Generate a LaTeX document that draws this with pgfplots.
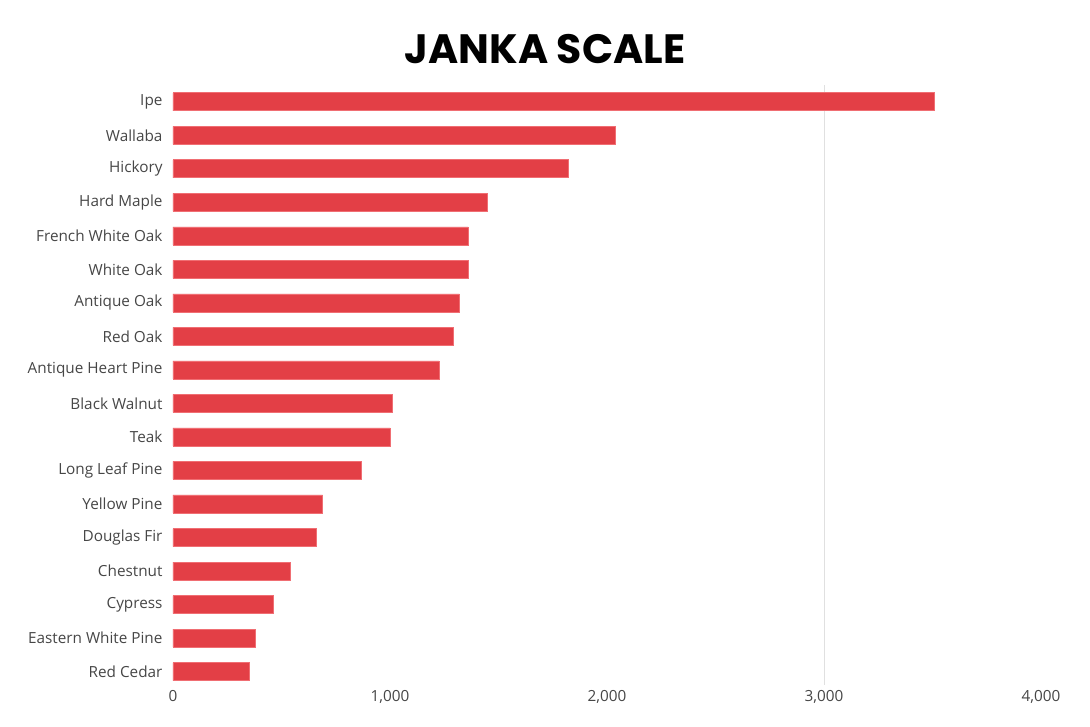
\documentclass[border=0pt]{standalone}
\usepackage{fontspec}
\setmainfont{Open Sans}
\newfontfamily\titlefont{Poppins}
\usepackage{pgfplots}
\pgfplotsset{compat=1.18}
\definecolor{barred}{RGB}{227,63,70}
\definecolor{baredge}{RGB}{240,110,115}
\definecolor{lbl}{RGB}{70,70,70}
\begin{document}
\begin{tikzpicture}
\useasboundingbox (0,0) rectangle (1090pt,727pt);
\begin{axis}[
  at={(173pt,42pt)}, anchor=south west,
  scale only axis, width=868pt, height=600pt,
  xmin=0, xmax=4000, ymin=-0.4, ymax=17.5,
  xbar, bar width=18pt,
  axis line style={draw=none},
  major tick length=0pt,
  xtick={0,1000,2000,3000,4000},
  extra x ticks={3000},
  extra x tick labels={},
  extra x tick style={grid=major, major grid style={draw=black!12, line width=0.8pt}},
  ytick={0,...,17},
  yticklabels={Red Cedar,Eastern White Pine,Cypress,Chestnut,Douglas Fir,Yellow Pine,Long Leaf Pine,Teak,Black Walnut,Antique Heart Pine,Red Oak,Antique Oak,White Oak,French White Oak,Hard Maple,Hickory,Wallaba,Ipe},
  /pgf/number format/assume math mode=true,
  /pgf/number format/1000 sep={,},
  scaled x ticks=false,
  tick label style={font=\fontsize{15.3}{18}\selectfont, text=lbl},
  yticklabel style={xshift=-7pt},
  xticklabel style={yshift=-2pt},
  clip=false,
]
\addplot[fill=barred, draw=baredge, line width=0.6pt] coordinates {
(350,0) (380,1) (460,2) (540,3) (660,4) (690,5) (870,6) (1000,7) (1010,8) (1225,9)
(1290,10) (1320,11) (1360,12) (1360,13) (1450,14) (1820,15) (2040,16) (3510,17)};
\end{axis}
\node[font=\titlefont\fontsize{41}{46}\bfseries\selectfont] at (545pt,678pt) {JANKA SCALE};
\end{tikzpicture}
\end{document}
